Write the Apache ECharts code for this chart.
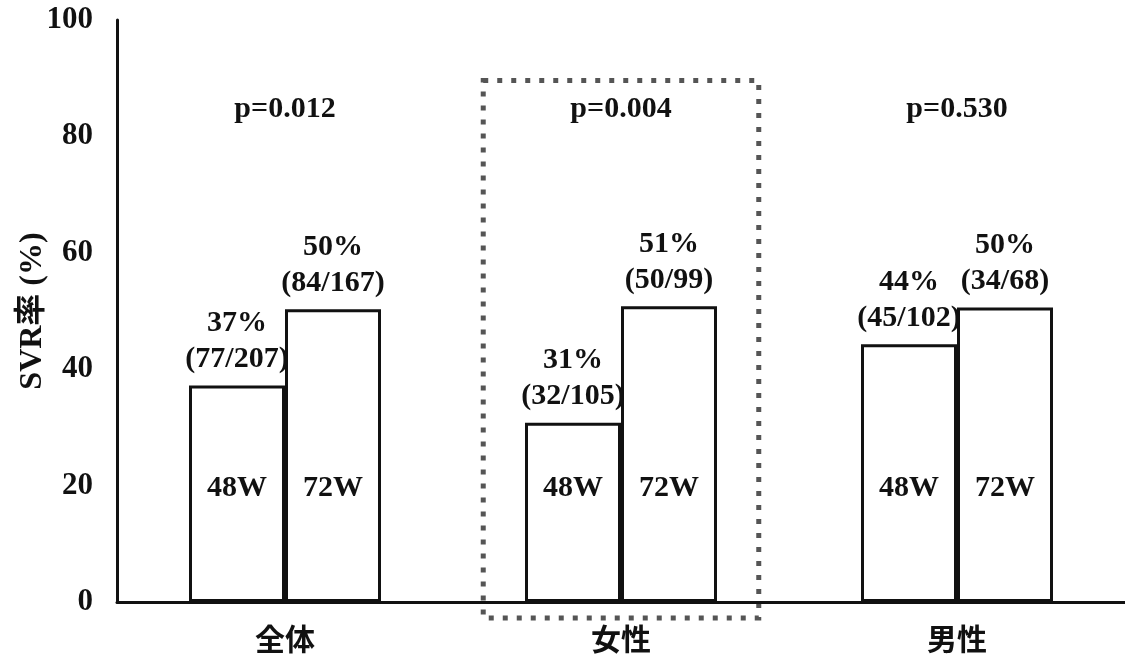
<!DOCTYPE html>
<html>
<head>
<meta charset="utf-8">
<script src="https://cdn.jsdelivr.net/npm/echarts@6/dist/echarts.min.js"></script>
<style>
html, body { margin: 0; padding: 0; background: #fff; }
#main { width: 1125px; height: 662px; }
</style>
</head>
<body>
<div id="main"></div>
<script>
var categories = ['全体', '女性', '男性'];
var svr48 = [37.2, 30.8, 44.3];
var svr72 = [50.3, 50.8, 50.6];
var pct48 = ['37%', '31%', '44%'];
var frac48 = ['(77/207)', '(32/105)', '(45/102)'];
var pct72 = ['50%', '51%', '50%'];
var frac72 = ['(84/167)', '(50/99)', '(34/68)'];
var pValues = ['p=0.012', 'p=0.004', 'p=0.530'];
var yTicks = [0, 20, 40, 60, 80, 100];

var serif = "'Liberation Serif', 'Noto Sans CJK JP', serif";
var innerY = 19.6;

function barSeries(name, values, pct, frac) {
    return {
        name: name,
        type: 'bar',
        data: values,
        barWidth: 96,
        barGap: 0,
        silent: true,
        itemStyle: { color: '#fff', borderColor: '#111', borderWidth: 3 },
        label: {
            show: true,
            position: 'top',
            distance: 8,
            formatter: function (p) { return pct[p.dataIndex] + '\n' + frac[p.dataIndex]; },
            fontFamily: serif,
            fontWeight: 'bold',
            fontSize: 30,
            lineHeight: 36,
            color: '#111'
        },
        markPoint: {
            symbol: 'rect',
            symbolSize: 1,
            silent: true,
            itemStyle: { color: 'transparent' },
            label: {
                show: true,
                position: 'inside',
                formatter: name,
                fontFamily: serif,
                fontWeight: 'bold',
                fontSize: 30,
                color: '#111'
            },
            data: categories.map(function (c) { return { coord: [c, innerY] }; })
        }
    };
}

var myChart = echarts.init(document.getElementById('main'));
var option = {
    animation: false,
    backgroundColor: '#fff',
    grid: { left: 117, right: 0, top: 20, bottom: 60, outerBoundsMode: 'none' },
    xAxis: [{
        type: 'category',
        data: categories,
        axisLine: { lineStyle: { color: '#111', width: 3 } },
        axisTick: { show: false },
        axisLabel: {
            margin: 22,
            fontFamily: "'Noto Sans CJK JP', sans-serif",
            fontWeight: 'bold',
            fontSize: 30,
            color: '#111'
        }
    }, {
        type: 'category',
        data: pValues,
        position: 'top',
        axisLine: { show: false },
        axisTick: { show: false },
        axisLabel: {
            inside: true,
            margin: 74,
            fontFamily: serif,
            fontWeight: 'bold',
            fontSize: 30,
            color: '#111'
        }
    }],
    yAxis: {
        type: 'value',
        min: 0,
        max: 100,
        interval: 20,
        name: 'SVR率 (%)',
        nameLocation: 'middle',
        nameGap: 68,
        nameMoveOverlap: false,
        nameRotate: 90,
        nameTextStyle: { fontFamily: serif, fontWeight: 'bold', fontSize: 32, color: '#111' },
        axisLine: { show: true, lineStyle: { color: '#111', width: 3 } },
        axisTick: { show: false },
        splitLine: { show: false },
        axisLabel: {
            margin: 24,
            fontFamily: serif,
            fontWeight: 'bold',
            fontSize: 31,
            color: '#111',
            formatter: function (v) { return yTicks.indexOf(v) >= 0 ? String(v) : ''; }
        }
    },
    series: [
        barSeries('48W', svr48, pct48, frac48),
        barSeries('72W', svr72, pct72, frac72)
    ]
};
myChart.setOption(option);

// dotted box around the 女性 group
var cx = myChart.convertToPixel({ xAxisIndex: 0 }, '女性');
var yTop = myChart.convertToPixel({ yAxisIndex: 0 }, 89.6);
var band = (1125 - 117) / categories.length;
myChart.setOption({
    graphic: [{
        type: 'rect',
        silent: true,
        shape: { x: cx - 0.41 * band, y: yTop, width: 0.82 * band, height: 618 - yTop },
        style: { fill: 'none', stroke: '#555', lineWidth: 5, lineDash: [5, 9] }
    }]
});
</script>
</body>
</html>
